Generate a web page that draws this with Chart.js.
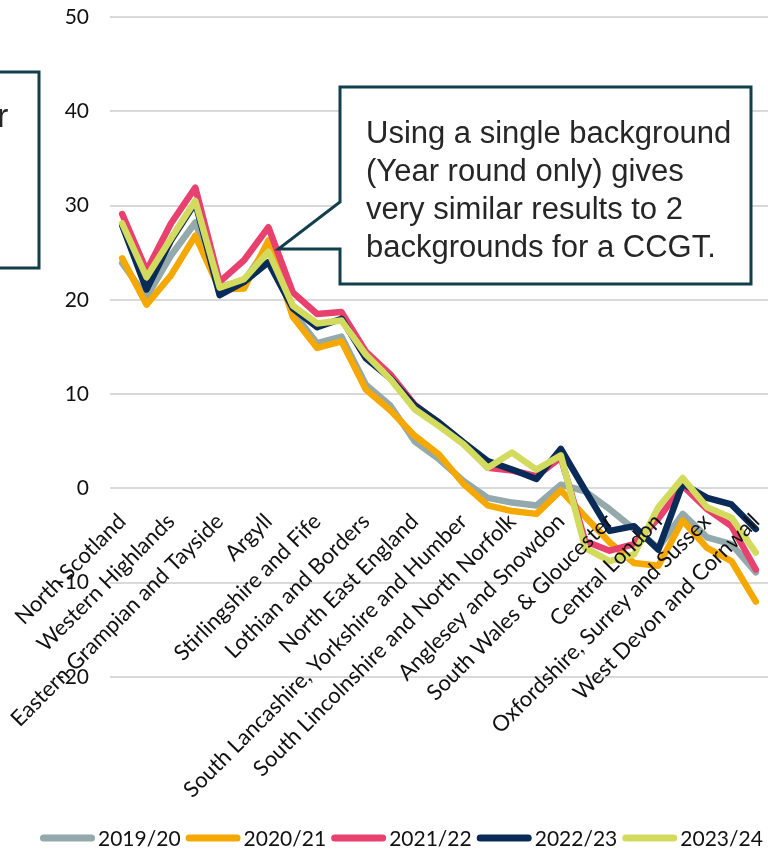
<!DOCTYPE html>
<html>
<head>
<meta charset="utf-8">
<script src="https://cdn.jsdelivr.net/npm/chart.js@4/dist/chart.umd.min.js"></script>
<style>
  html, body { margin: 0; padding: 0; background: #ffffff; }
  #wrap { width: 768px; height: 857px; position: relative; }
</style>
</head>
<body>
<div id="wrap"><canvas id="chart" width="768" height="857"></canvas></div>
<script>
// Generation zones, north to south
const zones = [
  'North Scotland', 'East Aberdeenshire', 'Western Highlands', 'Skye and Lochalsh',
  'Eastern Grampian and Tayside', 'Central Grampian', 'Argyll', 'The Trossachs',
  'Stirlingshire and Fife', 'South West Scotlands', 'Lothian and Borders', 'Solway and Cheviot',
  'North East England', 'North Lancashire and The Lakes', 'South Lancashire, Yorkshire and Humber',
  'North Midlands and North Wales', 'South Lincolnshire and North Norfolk', 'Mid Wales and The Midlands',
  'Anglesey and Snowdon', 'Pembrokeshire', 'South Wales & Gloucester', 'Cotswold',
  'Central London', 'Essex and Kent', 'Oxfordshire, Surrey and Sussex', 'Somerset and Wessex',
  'West Devon and Cornwall'
];

const years = ['2019/20', '2020/21', '2021/22', '2022/23', '2023/24'];

const y2019 = [23.9, 20.3, 24.7, 28.2, 21.4, 22.0, 25.8, 18.7, 15.4, 16.1, 11.0, 8.8, 5.0, 3.1, 0.8, -1.0, -1.5, -1.8, 0.4, -0.3, -2.2, -4.3, -6.3, -2.7, -5.2, -5.9, -8.9];
const y2020 = [24.4, 19.5, 22.6, 26.8, 21.1, 21.2, 26.3, 18.2, 14.9, 15.6, 10.5, 8.3, 5.6, 3.6, 0.5, -1.8, -2.4, -2.7, -0.2, -3.0, -5.7, -7.9, -8.2, -3.4, -6.3, -7.7, -12.0];
const y2021 = [29.1, 23.1, 28.1, 31.9, 21.9, 24.2, 27.7, 20.8, 18.5, 18.7, 14.5, 12.1, 8.9, 6.9, 4.8, 2.2, 1.9, 1.3, 3.3, -5.6, -6.6, -5.9, -3.2, 0.3, -2.2, -4.0, -8.6];
const y2022 = [27.9, 21.1, 26.3, 30.3, 20.5, 21.9, 24.0, 19.1, 17.1, 18.0, 13.8, 11.7, 8.8, 7.0, 4.9, 2.9, 2.0, 1.0, 4.2, -0.2, -4.5, -4.0, -6.5, 0.5, -1.0, -1.7, -4.3];
const y2023 = [28.1, 22.4, 26.5, 30.5, 21.3, 22.2, 25.1, 19.4, 17.5, 17.8, 14.2, 11.6, 8.4, 6.6, 4.7, 2.2, 3.8, 2.0, 3.5, -6.3, -7.7, -7.0, -2.0, 1.1, -2.0, -3.1, -6.8];

const yTicks = { min: -20, max: 50, step: 10 };

const colors = ['#93A9AC', '#F5A800', '#E8416F', '#0A2B57', '#D3DB5E'];
const seriesValues = [y2019, y2020, y2021, y2022, y2023];

const calloutText = [
  'Using a single background',
  '(Year round only) gives',
  'very similar results to 2',
  'backgrounds for a CCGT.'
];
const sideNoteText = 'r';

const BOX_COLOR = '#123F4C';
const TEXT_COLOR = '#262626';
const LABEL_FONT = 'Lato';

// Callout boxes plus the horizontal line-style legend
const decorations = {
  id: 'decorations',
  afterDatasetsDraw(chart) {
    const ctx = chart.ctx;
    const x = chart.scales.x, y = chart.scales.y;
    ctx.save();

    // main callout pointing at the Argyll values
    const tipX = x.getPixelForValue(6) + 10;
    const tipY = y.getPixelForValue(25.4);
    const L = 340, T = 87, R = 751, B = 284;
    const notchTop = 202, notchBottom = tipY;
    ctx.fillStyle = '#ffffff';
    ctx.strokeStyle = BOX_COLOR;
    ctx.lineWidth = 3;
    ctx.lineJoin = 'miter';
    ctx.beginPath();
    ctx.moveTo(L, T);
    ctx.lineTo(R, T);
    ctx.lineTo(R, B);
    ctx.lineTo(L, B);
    ctx.lineTo(L, notchBottom);
    ctx.lineTo(tipX, tipY);
    ctx.lineTo(L, notchTop);
    ctx.closePath();
    ctx.fill();
    ctx.stroke();

    ctx.fillStyle = TEXT_COLOR;
    ctx.font = '31px "Liberation Sans", Arial, sans-serif';
    ctx.textAlign = 'left';
    ctx.textBaseline = 'alphabetic';
    calloutText.forEach((line, i) => ctx.fillText(line, 366, 143 + i * 38));

    // side note box running off the left edge
    ctx.fillStyle = '#ffffff';
    ctx.fillRect(-5, 72, 44, 196);
    ctx.beginPath();
    ctx.moveTo(-5, 72);
    ctx.lineTo(39, 72);
    ctx.lineTo(39, 268);
    ctx.lineTo(-5, 268);
    ctx.stroke();
    ctx.fillStyle = TEXT_COLOR;
    ctx.font = '34px "Liberation Sans", Arial, sans-serif';
    ctx.fillText(sideNoteText, -3, 127);

    // legend
    ctx.font = '21px ' + LABEL_FONT;
    ctx.textBaseline = 'middle';
    let lx = 40;
    const ly = 838;
    chart.data.datasets.forEach((ds) => {
      ctx.strokeStyle = ds.borderColor;
      ctx.lineWidth = 7;
      ctx.lineCap = 'round';
      ctx.beginPath();
      ctx.moveTo(lx + 3.5, ly);
      ctx.lineTo(lx + 51.5, ly);
      ctx.stroke();
      ctx.fillStyle = '#111111';
      ctx.fillText(ds.label, lx + 58, ly + 1);
      lx += 58 + ctx.measureText(ds.label).width + 5;
    });
    ctx.restore();
  }
};

const datasets = years.map((name, i) => ({
  label: name,
  data: seriesValues[i],
  borderColor: colors[i],
  backgroundColor: colors[i],
  borderWidth: 6.5,
  borderJoinStyle: 'round',
  borderCapStyle: 'round',
  pointRadius: 0,
  pointHoverRadius: 0,
  tension: 0,
  fill: false,
  order: years.length - i
}));

new Chart(document.getElementById('chart'), {
  type: 'line',
  data: { labels: zones, datasets },
  options: {
    responsive: false,
    animation: false,
    devicePixelRatio: 1,
    layout: { padding: { top: 17, bottom: 180, left: 0, right: 0 } },
    plugins: {
      legend: { display: false },
      tooltip: { enabled: false },
      title: { display: false }
    },
    scales: {
      x: {
        type: 'category',
        position: { y: 0 },
        offset: true,
        grid: { display: false, drawTicks: false },
        border: { display: false },
        ticks: {
          z: 1,
          autoSkip: false,
          minRotation: 45,
          maxRotation: 45,
          padding: 20,
          color: '#111111',
          font: { family: LABEL_FONT, size: 22 },
          callback(value, index) { return index % 2 === 0 ? zones[index] : ''; }
        },
        afterFit(scale) {
          scale.paddingLeft = 0; scale.paddingRight = 0;
          scale.paddingTop = 0; scale.paddingBottom = 0;
        }
      },
      y: {
        min: yTicks.min,
        max: yTicks.max,
        grid: { color: '#D9D9D9', lineWidth: 2, drawTicks: false },
        border: { display: false },
        ticks: {
          stepSize: yTicks.step,
          padding: 21,
          color: '#111111',
          font: { family: LABEL_FONT, size: 21 }
        },
        afterFit(scale) {
          scale.width = 110;
          scale.paddingTop = 0; scale.paddingBottom = 0;
        }
      }
    }
  },
  plugins: [decorations]
});
</script>
</body>
</html>
